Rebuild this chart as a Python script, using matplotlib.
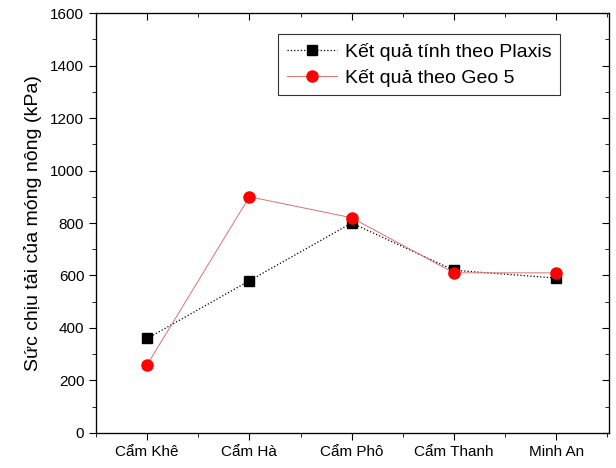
import matplotlib.pyplot as plt
from matplotlib.ticker import MultipleLocator

plt.rcParams['font.family'] = ['Liberation Sans', 'DejaVu Sans']

# Données
locations = ["Cẩm Khê", "Cẩm Hà", "Cẩm Phô", "Cẩm Thanh", "Minh An"]
plaxis = [360, 580, 800, 620, 590]
geo5 = [260, 900, 820, 610, 610]

x = list(range(1, len(locations) + 1))

fig = plt.figure(figsize=(6.16, 4.68), dpi=100)
ax = fig.add_axes([0.156, 0.075, 0.833, 0.897])

ax.plot(x, plaxis, color="black", linestyle=":", linewidth=0.9,
        marker="s", markersize=7, label="Kết quả tính theo Plaxis")
ax.plot(x, geo5, color="#e07070", linestyle="-", linewidth=0.7,
        marker="o", markersize=8, markerfacecolor="red", markeredgecolor="red",
        label="Kết quả theo Geo 5")

ax.set_xlim(0.5, 5.52)
ax.set_ylim(0, 1600)
ax.set_xticks(x)
ax.set_xticklabels(locations, fontsize=11)
ax.xaxis.set_minor_locator(MultipleLocator(0.5))
ax.yaxis.set_major_locator(MultipleLocator(200))
ax.yaxis.set_minor_locator(MultipleLocator(100))
ax.tick_params(axis="both", which="major", direction="out", length=5, labelsize=11)
ax.tick_params(axis="both", which="minor", direction="out", length=3)
ax.set_ylabel("Sức chịu tải của móng nông (kPa)", fontsize=14, labelpad=6)

# Ticks intérieurs sur le haut et la droite
axr = ax.twinx()
axr.set_ylim(ax.get_ylim())
axr.yaxis.set_major_locator(MultipleLocator(200))
axr.yaxis.set_minor_locator(MultipleLocator(100))
axr.tick_params(which="major", direction="in", length=5, labelright=False)
axr.tick_params(which="minor", direction="in", length=3)

axt = ax.twiny()
axt.set_xlim(ax.get_xlim())
axt.set_xticks(x)
axt.xaxis.set_minor_locator(MultipleLocator(0.5))
axt.tick_params(which="major", direction="in", length=5, labeltop=False)
axt.tick_params(which="minor", direction="in", length=3)

leg = ax.legend(loc="upper right", bbox_to_anchor=(0.905, 0.95), fontsize=14,
                frameon=True, fancybox=False, edgecolor="black",
                handlelength=2.6, handletextpad=0.4, borderpad=0.45,
                labelspacing=0.4, borderaxespad=0)
leg.get_frame().set_linewidth(0.8)

plt.savefig("out.png", dpi=100)
